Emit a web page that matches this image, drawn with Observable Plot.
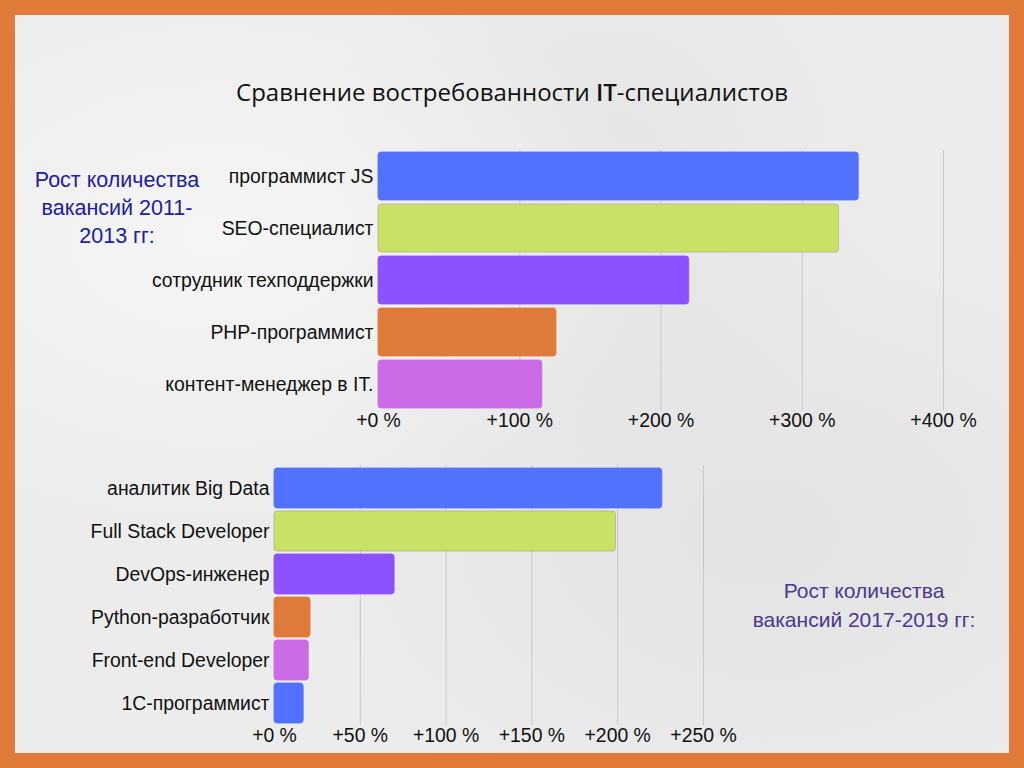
<!DOCTYPE html>
<html><head><meta charset="utf-8">
<script src="https://cdn.jsdelivr.net/npm/d3@7"></script>
<script src="https://cdn.jsdelivr.net/npm/@observablehq/plot@0.6"></script>
<style>
html,body{margin:0;padding:0;width:1024px;height:768px;overflow:hidden;}
#frame{position:absolute;left:0;top:0;width:1024px;height:768px;background:#e07b3a;}
#paper{position:absolute;left:15px;top:15px;width:994px;height:738px;
 background:
  radial-gradient(ellipse at 20% 30%, rgba(255,255,255,0.5), rgba(255,255,255,0) 40%),
  radial-gradient(ellipse at 75% 70%, rgba(205,205,205,0.3), rgba(205,205,205,0) 45%),
  radial-gradient(ellipse at 60% 20%, rgba(218,218,218,0.35), rgba(218,218,218,0) 35%),
  #ececec;}
.abs{position:absolute;}
#title{left:0;width:1024px;top:75px;text-align:center;font-family:"Open Sans",sans-serif;font-size:24px;color:#111;}
#noteTop{left:17px;width:200px;top:166px;text-align:center;font-family:"Liberation Sans",Arial,sans-serif;font-size:21.5px;line-height:28px;color:#2020a0;}
#noteBot{left:734px;width:260px;top:576px;text-align:center;font-family:"Liberation Sans",Arial,sans-serif;font-size:21px;line-height:29px;color:#4a3a8c;}
svg{overflow:visible;}
</style></head>
<body>
<div id="frame"></div>
<div id="paper"></div>
<div id="title" class="abs">Сравнение востребованности <b style="font-weight:600">IT</b>-специалистов</div>
<div id="noteTop" class="abs">Рост количества<br>вакансий 2011-<br>2013 гг:</div>
<div id="noteBot" class="abs">Рост количества<br>вакансий 2017-2019 гг:</div>
<div id="top" class="abs" style="left:0;top:140px;"></div>
<div id="bot" class="abs" style="left:0;top:455px;"></div>
<script>
// Top chart: 2011-2013
const topCategories = ["программист JS","SEO-специалист","сотрудник техподдержки","PHP-программист","контент-менеджер в IT."];
const topValues = [340, 326, 220, 126, 116];
const topColors = ["#5271ff","#c9e265","#8c52ff","#e07a3b","#cb6ce6"];
const topTicks = [0,100,200,300,400];

// Bottom chart: 2017-2019
const botCategories = ["аналитик Big Data","Full Stack Developer","DevOps-инженер","Python-разработчик","Front-end Developer","1С-программист"];
const botValues = [226, 199, 70, 21, 20, 17];
const botColors = ["#5271ff","#c9e265","#8c52ff","#e07a3b","#cb6ce6","#5271ff"];
const botTicks = [0,50,100,150,200,250];

const fmt = d => "+" + d + " %";
const font = '"Liberation Sans", Arial, sans-serif';

function chart(cats, vals, cols, ticks, opts) {
  const data = cats.map((c,i)=>({cat:c, v:vals[i], fill:cols[i]}));
  return Plot.plot({
    width: 1024, height: 300,
    marginLeft: opts.ml, marginRight: opts.mr, marginTop: 10, marginBottom: 30,
    style: {background:"transparent", fontFamily: font, fontSize:"19.4px", color:"#111"},
    x: {domain:[0, ticks[ticks.length-1]], ticks: ticks, tickFormat: fmt, tickSize: 0, tickPadding: 3, label: null},
    y: {domain: cats, paddingInner: opts.pi, paddingOuter: opts.po, tickSize: 0, tickPadding: 5, label: null},
    marks: [
      Plot.ruleX(ticks.slice(1), {stroke:"#c8c8c8", strokeWidth:1}),
      Plot.barX(data, {y:"cat", x:"v", fill: d=>d.fill, rx: 3,
        stroke: d => d.fill === "#c9e265" ? "#b0b0a0" : d.fill, strokeWidth: 1, strokeOpacity: 0.8})
    ]
  });
}
document.getElementById("top").appendChild(chart(topCategories, topValues, topColors, topTicks, {ml:378, mr:1024-943, pi:0.08, po:0.04}));
document.getElementById("bot").appendChild(chart(botCategories, botValues, botColors, botTicks, {ml:274, mr:1024-703, pi:0.07, po:0.035}));
</script>
</body></html>
